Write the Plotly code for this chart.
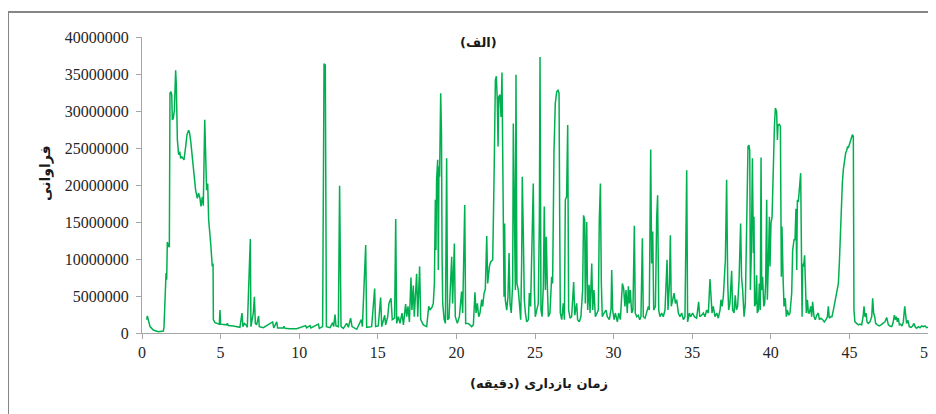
import plotly.graph_objects as go

# Retention time (min) and abundance (millions)
time_min = [
    0.30, 0.34, 0.51, 0.72, 1.04, 1.36, 1.40, 1.48, 1.53, 1.57, 1.61, 1.68, 1.74, 1.78, 1.84, 1.89, 1.93,
    1.99, 2.06, 2.14, 2.18, 2.25, 2.33, 2.40, 2.46, 2.54, 2.67, 2.78, 2.86, 2.97, 3.03, 3.10, 3.22, 3.31,
    3.41, 3.52, 3.60, 3.69, 3.75, 3.84, 3.90, 3.99, 4.05, 4.11, 4.18, 4.24, 4.37, 4.47, 4.52, 4.54, 4.64,
    4.92, 4.96, 5.00, 5.39, 5.43, 5.49, 5.81, 6.23, 6.36, 6.42, 6.51, 6.62, 6.70, 6.89, 6.93, 7.08, 7.15,
    7.21, 7.29, 7.42, 7.46, 7.72, 8.31, 8.38, 8.57, 8.63, 8.99, 9.03, 9.10, 9.41, 9.84, 10.41, 10.47,
    10.69, 10.75, 11.22, 11.28, 11.49, 11.58, 11.66, 11.73, 11.96, 12.13, 12.19, 12.28, 12.34, 12.49,
    12.57,
    12.66, 12.81, 13.02, 13.13, 13.27, 13.36, 13.66, 13.95, 14.02, 14.23, 14.29, 14.61, 14.80, 14.86,
    15.03, 15.18, 15.25, 15.44, 15.50, 15.63, 15.71, 15.84, 15.92, 16.07, 16.14, 16.20, 16.31, 16.41,
    16.54, 16.63, 16.77, 16.84, 16.92, 17.01, 17.11, 17.17, 17.26, 17.32, 17.47, 17.54, 17.66, 17.73,
    17.90, 18.11, 18.24, 18.32, 18.45, 18.53, 18.60, 18.66, 18.70, 18.74, 18.81, 18.85, 18.89, 18.93,
    19.00, 19.05, 19.09, 19.13, 19.22, 19.30, 19.38, 19.44, 19.53, 19.61, 19.70, 19.76, 19.87, 19.93,
    20.06, 20.19, 20.27, 20.33, 20.40, 20.53, 20.59, 20.76, 20.97, 21.08, 21.18, 21.25, 21.33, 21.42,
    21.50, 21.61, 21.67, 21.76, 21.84, 21.93, 21.99, 22.10, 22.18, 22.31, 22.39, 22.48, 22.54, 22.60,
    22.65, 22.69, 22.77, 22.84, 22.90, 22.96, 23.03, 23.07, 23.11, 23.20, 23.28, 23.35, 23.41, 23.49,
    23.58, 23.62, 23.69, 23.75, 23.79, 23.85, 23.94, 24.00, 24.09, 24.15, 24.19, 24.26, 24.32, 24.39,
    24.47, 24.58, 24.64, 24.72, 24.81, 24.89, 24.96, 25.02, 25.11, 25.21, 25.28,
    25.32, 25.38, 25.45, 25.53, 25.59, 25.66, 25.72, 25.78, 25.85, 25.95, 26.06, 26.12, 26.21, 26.29,
    26.38, 26.46, 26.53, 26.57, 26.61, 26.70, 26.80, 26.87, 26.93, 27.01, 27.08, 27.14, 27.23, 27.33,
    27.46, 27.53, 27.65, 27.71, 27.82, 27.92, 28.03, 28.09, 28.16, 28.20, 28.29, 28.35, 28.44, 28.50,
    28.61, 28.67, 28.75, 28.84, 28.92, 29.03, 29.09, 29.16, 29.22, 29.28, 29.39, 29.52, 29.60, 29.73,
    29.84, 29.88, 29.94, 30.03, 30.11, 30.24, 30.32, 30.43, 30.56, 30.64, 30.72, 30.79, 30.87, 30.94,
    31.00, 31.06, 31.15, 31.23, 31.32, 31.38, 31.47, 31.57, 31.66, 31.74, 31.83, 31.89, 32.00, 32.10,
    32.21, 32.27, 32.36, 32.42, 32.49, 32.55, 32.66, 32.74, 32.80, 32.87, 32.95, 33.06, 33.16, 33.27,
    33.40, 33.46, 33.55, 33.61, 33.67, 33.76, 33.85, 33.93, 34.01, 34.12, 34.22, 34.33, 34.44, 34.54,
    34.65, 34.71, 34.82, 34.90, 35.03, 35.14, 35.28, 35.41, 35.48, 35.60, 35.71, 35.81, 35.92, 36.03,
    36.13, 36.20, 36.26, 36.34, 36.45, 36.56, 36.66, 36.77, 36.83, 36.90, 36.98, 37.11, 37.19, 37.26,
    37.32, 37.40, 37.51, 37.57, 37.66, 37.74, 37.81, 37.89, 37.98,
    38.08, 38.14, 38.21, 38.30, 38.38, 38.47, 38.55, 38.61, 38.66, 38.70, 38.76, 38.83, 38.87, 38.89,
    38.93, 38.97, 39.04, 39.10, 39.14, 39.21, 39.27, 39.33, 39.38, 39.42, 39.48, 39.55, 39.61, 39.67,
    39.74, 39.78, 39.84, 39.91, 39.95, 40.01, 40.08, 40.14, 40.23, 40.29, 40.37, 40.42, 40.46, 40.54,
    40.61, 40.67, 40.71, 40.78, 40.84, 40.92, 40.99, 41.05, 41.14, 41.22, 41.33, 41.39, 41.48, 41.54,
    41.60, 41.65, 41.69, 41.75, 41.82, 41.90, 41.94, 41.99, 42.03, 42.09, 42.15, 42.20, 42.26, 42.33,
    42.39, 42.45, 42.54, 42.60, 42.66, 42.75, 42.83, 42.92, 43.02, 43.09, 43.19, 43.30, 43.40, 43.51,
    43.60, 43.66, 43.72, 43.81, 43.89, 43.98, 44.06, 44.15, 44.23, 44.30, 44.36, 44.40, 44.47, 44.55,
    44.61, 44.68, 44.76, 44.83, 44.89, 44.93, 44.98, 45.04, 45.11, 45.19, 45.25, 45.29, 45.35, 45.46,
    45.57, 45.67, 45.78, 45.87, 45.93, 45.99, 46.06, 46.12, 46.20, 46.31, 46.42, 46.48, 46.54, 46.61,
    46.67, 46.78, 46.90, 47.01, 47.12, 47.26, 47.37, 47.48, 47.58, 47.69, 47.77, 47.86, 47.92, 47.99,
    48.05, 48.11, 48.18, 48.26, 48.35, 48.43, 48.52, 48.58, 48.64, 48.73, 48.81, 48.92, 49.02, 49.11,
    49.20, 49.28, 49.39, 49.49, 49.60, 49.70, 49.81, 49.92, 50.00,
]

abundance_millions = [
    1.8, 2.3, 0.86, 0.4, 0.18, 0.27, 0.86, 6.7, 8.1, 7.2, 12.3, 11.7, 11.7, 32.4, 32.6, 32.2, 28.8,
    29.0, 30.1, 35.5, 33.7, 26.1, 24.1, 24.5, 23.6, 23.8, 23.4, 25.2, 26.8, 27.4, 27.0, 25.9, 23.4, 21.6,
    19.3, 18.2, 18.9, 18.2, 17.1, 18.4, 17.2, 28.8, 22.0, 19.3, 20.2, 15.3, 12.1, 9.0, 9.4, 1.8, 1.4,
    1.2, 3.1, 1.2, 1.1, 1.3, 1.0, 0.95, 0.77, 2.7, 0.86, 1.3, 1.1, 0.77, 12.7, 0.86, 2.7, 4.9,
    1.3, 1.1, 2.3, 0.86, 0.72, 1.5, 0.68, 1.5, 0.68, 0.68, 0.9, 0.63, 0.59, 0.59, 1.0, 0.68,
    1.0, 0.68, 1.2, 0.63, 0.86, 36.4, 36.2, 0.86, 0.72, 1.4, 0.86, 2.5, 0.95, 0.86,
    19.9,
    0.86, 0.63, 1.3, 0.77, 2.0, 0.86, 0.5, 1.8, 0.86, 11.9, 0.77, 0.86, 6.0, 0.86,
    0.95, 4.8, 0.86, 2.4, 1.1, 2.2, 4.0, 4.7, 1.8, 2.0, 15.4, 1.3, 2.2, 1.3,
    2.7, 1.1, 3.9, 2.2, 3.6, 1.5, 7.5, 3.1, 6.4, 2.2, 8.0, 2.2, 9.0, 1.8,
    1.1, 0.86, 3.6, 3.1, 3.5, 4.0, 6.7, 18.0, 11.2, 20.7, 23.4, 8.5, 22.5, 21.1,
    32.4, 27.0, 10.3, 4.0, 1.8, 1.3, 23.6, 1.8, 2.0, 5.8, 10.3, 4.0, 12.1, 2.2,
    1.3, 2.2, 4.0, 5.6, 2.7, 17.3, 1.3, 1.3, 0.86, 1.1, 5.5, 2.7, 4.0, 2.2,
    2.7, 4.5, 3.6, 5.4, 5.9, 13.1, 6.7, 9.0, 9.6, 9.9, 20.2, 34.2, 34.7, 31.5,
    25.2, 31.9, 32.2, 29.2, 35.2, 14.8, 4.9, 14.8, 4.5, 3.1, 4.9, 10.8, 4.0, 2.7,
    6.7, 28.3, 13.5, 5.8, 34.9, 6.7, 5.8, 4.0, 1.8, 9.4, 21.1, 13.0, 4.5, 2.7,
    1.5, 1.8, 5.4, 3.6, 13.5, 20.2, 5.8, 2.2, 3.1, 4.0, 15.7,
    37.3, 3.1, 2.2, 6.3, 17.1, 5.8, 13.0, 6.7, 2.2, 2.7, 7.6, 6.7, 24.7, 31.0,
    32.6, 32.8, 32.4, 15.7, 2.7, 1.8, 4.0, 1.8, 18.0, 18.4, 28.1, 3.1, 2.0, 2.2,
    6.9, 2.4, 4.0, 1.8, 1.5, 2.2, 5.8, 15.9, 15.3, 4.0, 15.0, 3.1, 6.5, 2.7,
    9.4, 3.1, 5.8, 2.2, 2.7, 3.1, 15.3, 20.2, 6.7, 2.2, 2.7, 3.1, 2.2, 1.8,
    3.3, 8.5, 3.1, 1.8, 2.7, 1.5, 2.7, 1.8, 6.7, 6.0, 3.6, 5.8, 2.7, 6.3,
    4.0, 5.8, 2.7, 3.1, 14.5, 2.7, 2.2, 2.4, 1.8, 2.2, 12.8, 2.2, 2.0, 2.7,
    3.6, 3.1, 24.8, 9.4, 13.7, 3.1, 3.6, 15.5, 18.6, 3.1, 2.2, 2.7, 2.2, 3.1,
    9.9, 3.1, 6.7, 13.2, 3.6, 4.5, 5.4, 4.0, 4.5, 2.7, 2.2, 2.7, 1.8, 2.2,
    22.0, 1.5, 2.7, 2.2, 2.7, 2.2, 2.0, 4.2, 2.2, 2.4, 2.7, 2.2, 3.1, 2.7,
    7.3, 4.9, 2.7, 3.6, 2.2, 2.7, 2.0, 3.1, 4.5, 3.6, 4.9, 9.9, 20.7, 6.7,
    3.1, 4.0, 8.4, 3.1, 2.7, 5.1, 3.1, 3.6, 7.2,
    14.8, 7.6, 5.8, 2.2, 4.0, 15.7, 25.2, 25.4, 24.7, 5.8, 10.8, 23.6, 15.7, 10.8,
    15.7, 3.6, 4.0, 7.8, 2.7, 3.1, 6.7, 3.1, 23.7, 5.8, 7.6, 3.6, 4.0, 6.7,
    18.0, 4.5, 9.0, 15.7, 9.0, 14.8, 15.7, 22.0, 27.9, 30.4, 29.9, 26.1, 28.1, 28.2,
    27.9, 7.6, 14.4, 7.6, 3.6, 4.7, 2.2, 3.1, 2.4, 2.7, 5.4, 11.2, 12.6, 12.6,
    16.8, 8.5, 18.0, 17.7, 19.3, 21.6, 13.0, 2.2, 9.4, 9.0, 10.5, 6.7, 2.7, 4.5,
    2.7, 2.7, 3.6, 2.2, 4.2, 2.2, 1.8, 2.4, 2.7, 1.8, 2.0, 1.8, 1.5, 1.8,
    2.2, 3.6, 2.0, 2.2, 2.2, 3.1, 4.0, 4.5, 5.4, 6.7, 9.4, 12.1, 17.5, 20.2,
    22.0, 23.4, 24.3, 24.7, 25.2, 25.0, 25.4, 25.6, 26.1, 26.8, 26.6, 3.1, 1.5, 1.3,
    1.1, 1.2, 1.1, 2.2, 3.6, 2.2, 2.7, 1.5, 1.3, 1.5, 2.2, 4.7, 2.7, 2.2,
    1.3, 1.1, 0.95, 1.1, 1.3, 1.5, 2.1, 1.1, 0.95, 0.86, 1.3, 2.4, 1.8, 2.2,
    1.5, 2.0, 1.1, 1.2, 0.95, 1.5, 3.6, 2.2, 1.3, 1.7, 0.86, 0.77, 0.95, 1.3,
    0.77, 0.63, 0.86, 0.72, 0.95, 0.86, 0.95, 0.72, 0.77,
]

x_ticks = [0, 5, 10, 15, 20, 25, 30, 35, 40, 45, 50]
y_ticks = [0, 5000000, 10000000, 15000000, 20000000, 25000000, 30000000, 35000000, 40000000]

panel_label = "(الف)"
x_title = "زمان بازداری (دقیقه)"
y_title = "فراوانی"

abundance = [v * 1e6 for v in abundance_millions]

# The page body adds an 8 px margin; the plot area is placed at the
# reference's screen position (x 142..928, y 37..333).
OFF = 8
W, H = 936 - OFF, 414 - OFF
SCR_L, SCR_R, SCR_T, SCR_B = 142, 928, 37, 333
PW, PH = SCR_R - SCR_L, SCR_B - SCR_T
ML, MT = SCR_L - OFF, SCR_T - OFF
MR, MB = W - ML - PW, H - MT - PH

def px_x(p):
    return (p - SCR_L) / PW

def px_y(p):
    return (SCR_B - p) / PH

fig = go.Figure()
fig.add_trace(go.Scatter(
    x=time_min, y=abundance, mode="lines",
    line=dict(color="#00B050", width=1.5),
    hoverinfo="x+y", showlegend=False,
))

axis_font = dict(family="'Liberation Serif', 'Times New Roman', serif", size=16, color="#262626")
fa_font = dict(family="'DejaVu Sans', sans-serif", size=13, color="#1a1a1a")

fig.update_layout(
    width=W, height=H,
    margin=dict(l=ML, r=MR, t=MT, b=MB, autoexpand=False),
    paper_bgcolor="white", plot_bgcolor="white",
    xaxis=dict(
        range=[0, 50], tickvals=x_ticks, ticks="outside", ticklen=5, tickcolor="#A6A6A6",
        showline=True, linecolor="#A6A6A6", linewidth=1, showgrid=False, zeroline=False,
        tickfont=axis_font, ticklabeloverflow="allow",
    ),
    yaxis=dict(
        range=[0, 40000000], tickvals=y_ticks, tickformat="d", ticks="outside", ticklen=5,
        tickcolor="#A6A6A6", showline=True, linecolor="#A6A6A6", linewidth=1,
        showgrid=False, zeroline=False, tickfont=axis_font, ticklabelstandoff=4,
    ),
    shapes=[dict(
        type="rect", xref="paper", yref="paper",
        x0=px_x(8), x1=px_x(960), y0=px_y(440), y1=px_y(12),
        line=dict(color="#868686", width=2), fillcolor="rgba(0,0,0,0)", layer="below",
    )],
    annotations=[
        dict(text="<b>" + panel_label + "</b>", xref="paper", yref="paper",
             x=px_x(478), y=px_y(42), showarrow=False, font=fa_font,
             xanchor="center", yanchor="middle"),
        dict(text="<b>" + x_title + "</b>", xref="paper", yref="paper",
             x=px_x(539), y=px_y(383), showarrow=False, font=dict(fa_font, size=13),
             xanchor="center", yanchor="middle"),
        dict(text="<b>" + y_title + "</b>", xref="paper", yref="paper",
             x=px_x(45), y=px_y(173), showarrow=False, font=dict(fa_font, size=14),
             textangle=-90, xanchor="center", yanchor="middle"),
    ],
)

fig.write_html("out.html")
